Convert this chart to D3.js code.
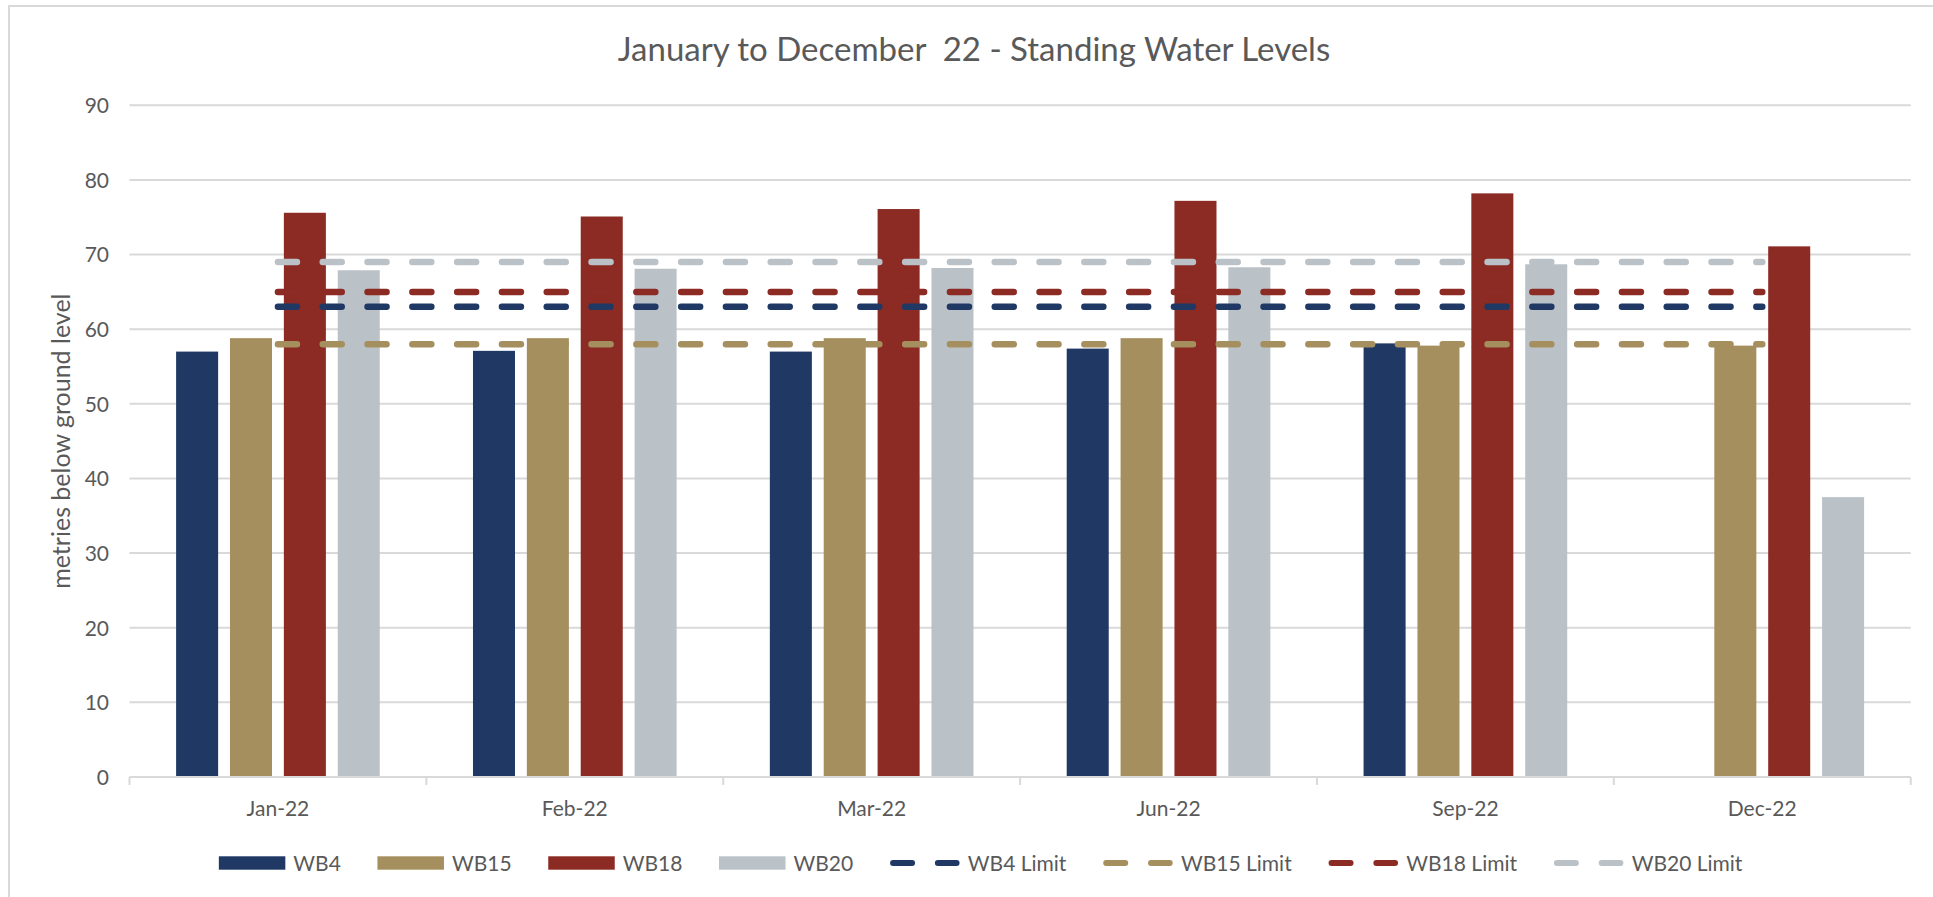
<!DOCTYPE html>
<html>
<head>
<meta charset="utf-8">
<script src="https://cdn.jsdelivr.net/npm/d3@7"></script>
<style>
  html, body { margin: 0; padding: 0; background: #fff; }
  svg { display: block; }
  text { font-family: Lato, "Open Sans", sans-serif; }
</style>
</head>
<body>
<svg id="chart" width="1933" height="897"></svg>
<script>
// ---- data ----
const categories = ["Jan-22", "Feb-22", "Mar-22", "Jun-22", "Sep-22", "Dec-22"];
const seriesNames = ["WB4", "WB15", "WB18", "WB20"];
const wb4  = [57.0, 57.1, 57.0, 57.4, 58.1, null];
const wb15 = [58.8, 58.8, 58.8, 58.8, 57.8, 57.8];
const wb18 = [75.6, 75.1, 76.1, 77.2, 78.2, 71.1];
const wb20 = [67.9, 68.1, 68.2, 68.3, 68.7, 37.5];
const limitNames = ["WB4 Limit", "WB15 Limit", "WB18 Limit", "WB20 Limit"];
const wb4Limit  = [63, 63, 63, 63, 63, 63];
const wb15Limit = [58, 58, 58, 58, 58, 58];
const wb18Limit = [65, 65, 65, 65, 65, 65];
const wb20Limit = [69, 69, 69, 69, 69, 69];
const yTicks = [0, 10, 20, 30, 40, 50, 60, 70, 80, 90];
const titleText = "January to December  22 - Standing Water Levels";
const yTitleText = "metries below ground level";

const barSeries = [wb4, wb15, wb18, wb20];
const limitSeries = [wb4Limit, wb15Limit, wb18Limit, wb20Limit];
const colors = ["#1F3864", "#A58F5F", "#8B2B24", "#BAC2C8"];

// ---- layout ----
const svg = d3.select("#chart");
const W = 1933, H = 897;
const plot = { left: 129.5, right: 1910.7, top: 105.3, bottom: 777 };
const gridColor = "#D9D9D9";
const textColor = "#595959";

// outer border
svg.append("rect")
  .attr("x", 9).attr("y", 6)
  .attr("width", W + 20).attr("height", H + 20)
  .attr("fill", "#fff").attr("stroke", gridColor).attr("stroke-width", 2);

const x0 = d3.scaleBand().domain(categories).range([plot.left, plot.right]).paddingInner(0).paddingOuter(0);
const groupW = x0.bandwidth() * 0.686;
const x1 = d3.scaleBand().domain(seriesNames).range([0, groupW]).paddingInner(0.22).paddingOuter(0);
const y = d3.scaleLinear().domain([0, 90]).range([plot.bottom, plot.top]);

// gridlines
svg.append("g").selectAll("line")
  .data(yTicks.filter(t => t > 0))
  .join("line")
  .attr("x1", plot.left).attr("x2", plot.right)
  .attr("y1", d => y(d)).attr("y2", d => y(d))
  .attr("stroke", gridColor).attr("stroke-width", 2);

// y axis labels
const yAxis = d3.axisLeft(y).tickValues(yTicks).tickSize(0).tickPadding(0);
const gy = svg.append("g").attr("transform", `translate(${plot.left - 20.5},0)`).call(yAxis);
gy.select(".domain").remove();
gy.selectAll("text").attr("fill", textColor).style("font-size", "21px")
  .style("font-family", "Lato, sans-serif").attr("dy", "0.35em");

// bars
seriesNames.forEach((name, si) => {
  const vals = barSeries[si];
  svg.append("g").selectAll("rect")
    .data(categories.map((c, i) => ({ c, v: vals[i] })).filter(d => d.v != null))
    .join("rect")
    .attr("x", d => x0(d.c) + (x0.bandwidth() - groupW) / 2 + x1(name))
    .attr("width", x1.bandwidth())
    .attr("y", d => y(d.v))
    .attr("height", d => y(0) - y(d.v))
    .attr("fill", colors[si]);
});

// x axis line + ticks
const xAxisG = svg.append("g");
xAxisG.append("line")
  .attr("x1", plot.left).attr("x2", plot.right)
  .attr("y1", y(0)).attr("y2", y(0))
  .attr("stroke", gridColor).attr("stroke-width", 2);
const boundaries = categories.map(c => x0(c)).concat([plot.right]);
xAxisG.selectAll("line.tick")
  .data(boundaries)
  .join("line").attr("class", "tick")
  .attr("x1", d => d).attr("x2", d => d)
  .attr("y1", y(0)).attr("y2", y(0) + 8)
  .attr("stroke", gridColor).attr("stroke-width", 2);
xAxisG.selectAll("text")
  .data(categories)
  .join("text")
  .attr("x", d => x0(d) + x0.bandwidth() / 2)
  .attr("y", 816)
  .attr("text-anchor", "middle")
  .attr("fill", textColor)
  .style("font-size", "21px")
  .text(d => d);

// limit lines
const dash = "19 25.8";
const lineGen = d3.line()
  .x(d => x0(d.c) + x0.bandwidth() / 2)
  .y(d => y(d.v));
limitSeries.forEach((vals, li) => {
  svg.append("path")
    .datum(categories.map((c, i) => ({ c, v: vals[i] })))
    .attr("d", lineGen)
    .attr("fill", "none")
    .attr("stroke", colors[li])
    .attr("stroke-width", 6.5)
    .attr("stroke-linecap", "round")
    .attr("stroke-dasharray", dash);
});

// title
svg.append("text")
  .attr("x", 974).attr("y", 61)
  .attr("text-anchor", "middle")
  .attr("fill", textColor)
  .style("font-size", "33px")
  .style("white-space", "pre")
  .text(titleText);

// y axis title
svg.append("text")
  .attr("transform", `translate(69.5,${(plot.top + plot.bottom) / 2}) rotate(-90)`)
  .attr("text-anchor", "middle")
  .attr("fill", textColor)
  .style("font-size", "25px")
  .text(yTitleText);

// legend
const legendItems = seriesNames.map((n, i) => ({ name: n, color: colors[i], type: "bar" }))
  .concat(limitNames.map((n, i) => ({ name: n, color: colors[i], type: "line" })));
const legend = svg.append("g");
const legendY = 863;
let cx = 0;
const swatchW = 66.5, sampleW = 70, textGap = 8, itemGap = 36.6;
legendItems.forEach(item => {
  const g = legend.append("g").attr("transform", `translate(${cx},0)`);
  let w;
  if (item.type === "bar") {
    g.append("rect").attr("x", 0).attr("y", legendY - 6.7).attr("width", swatchW).attr("height", 13.4)
      .attr("fill", item.color);
    w = swatchW;
  } else {
    g.append("line").attr("x1", 3.25).attr("x2", sampleW - 3.25)
      .attr("y1", legendY).attr("y2", legendY)
      .attr("stroke", item.color).attr("stroke-width", 6)
      .attr("stroke-linecap", "round").attr("stroke-dasharray", dash);
    w = sampleW;
  }
  const t = g.append("text").attr("x", w + textGap).attr("y", legendY + 7.5)
    .attr("fill", textColor).style("font-size", "21px").text(item.name);
  const tw = t.node().getComputedTextLength();
  cx += w + textGap + tw + itemGap;
});
const legendW = cx - itemGap;
legend.attr("transform", `translate(${980.6 - legendW / 2},0)`);
</script>
</body>
</html>
